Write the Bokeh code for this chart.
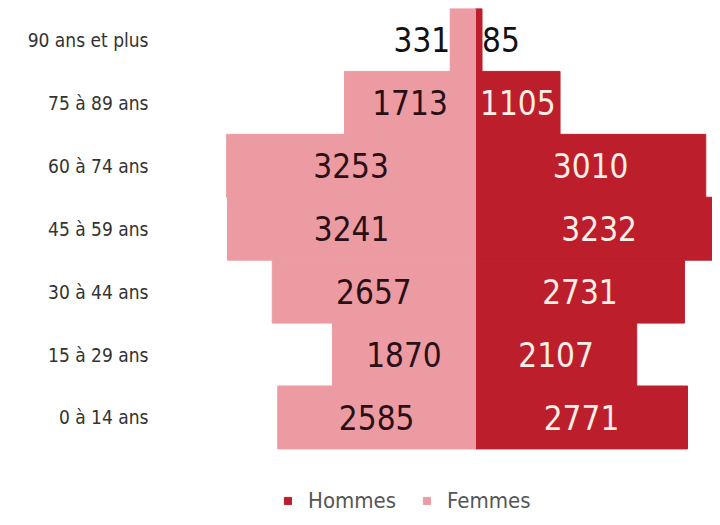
from bokeh.plotting import figure
from bokeh.models import ColumnDataSource, Legend, LegendItem, FixedTicker, Range1d
from bokeh.core.properties import value
from bokeh.embed import file_html
from bokeh.resources import INLINE

groups = ["0 à 14 ans", "15 à 29 ans", "30 à 44 ans", "45 à 59 ans",
          "60 à 74 ans", "75 à 89 ans", "90 ans et plus"]
hommes = [2771, 2107, 2731, 3232, 3010, 1105, 85]
femmes = [2585, 1870, 2657, 3241, 3253, 1713, 331]

C_H = "#bd1e2c"
C_F = "#ec9ba3"
FONT = "DejaVu Sans Condensed, Liberation Sans Narrow, Roboto"

ypos = list(range(len(groups)))

p = figure(width=712, height=517, output_backend="svg", toolbar_location=None,
           y_range=Range1d(-1.59, 6.5),
           x_range=Range1d(-4118, 3098),
           min_border_left=160, min_border_right=0, min_border_top=8,
           min_border_bottom=0)
p.xaxis.visible = False
p.outline_line_color = None
p.grid.visible = False

src = ColumnDataSource(dict(
    y=ypos,
    h=hommes,
    f=[-v for v in femmes],
))
rh = p.hbar(y="y", left=0, right="h", height=1.0, color=C_H, source=src)
rf = p.hbar(y="y", left="f", right=0, height=1.0, color=C_F, source=src)

# value labels
fx, fa, fc = [], [], []
for v in femmes:
    if v < 600:
        fx.append(-v); fa.append("right"); fc.append("#111111")
    else:
        fx.append(-v / 2); fa.append("center"); fc.append("#2a0f16")
hx, ha, hc = [], [], []
for v in hommes:
    if v < 600:
        hx.append(v); ha.append("left"); hc.append("#111111")
    else:
        hx.append(v / 2); ha.append("center"); hc.append("#fbefe6")

lf = ColumnDataSource(dict(x=fx, y=ypos, t=[str(v) for v in femmes], a=fa, c=fc))
lh = ColumnDataSource(dict(x=hx, y=ypos, t=[str(v) for v in hommes], a=ha, c=hc))
for s in (lf, lh):
    p.text(x="x", y="y", text="t", text_align="a", text_color="c",
           text_baseline="middle", text_font=value(FONT),
           text_font_size="33px", source=s)

yax = p.yaxis[0]
yax.ticker = FixedTicker(ticks=ypos)
yax.major_label_overrides = {i: g for i, g in zip(ypos, groups)}
yax.axis_line_color = None
yax.major_tick_line_color = None
yax.minor_tick_line_color = None
yax.major_label_standoff = 6
yax.major_label_text_font = FONT
yax.major_label_text_font_size = "19px"
yax.major_label_text_color = "#333333"

legend = Legend(items=[LegendItem(label="Hommes", renderers=[rh]),
                       LegendItem(label="Femmes", renderers=[rf])],
                orientation="horizontal", location=(123, 4),
                margin=0, padding=0, label_standoff=16,
                label_text_font=FONT, label_text_font_size="22px",
                label_text_color="#555555", glyph_width=9, glyph_height=9,
                spacing=26, border_line_color=None, background_fill_alpha=0)
p.add_layout(legend, "center")

open("out.html", "w").write(file_html(p, INLINE))
